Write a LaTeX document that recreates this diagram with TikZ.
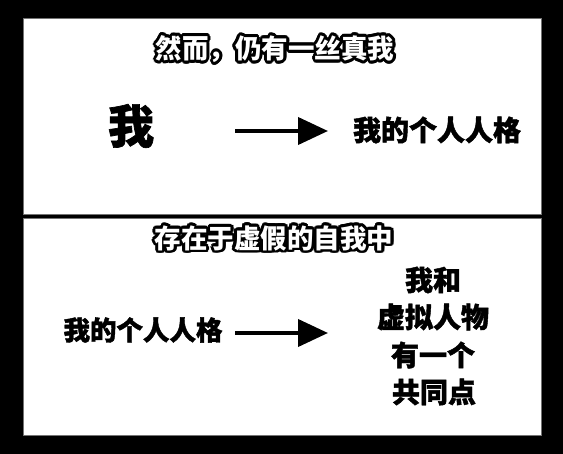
\documentclass[tikz,border=0pt]{standalone}
\usepackage{fontspec}
\newfontfamily\cjk{Noto Sans CJK SC}[BoldFeatures={FakeBold=1.5}]
\newfontfamily\cjkplain{Noto Sans CJK SC}
\usetikzlibrary{arrows.meta}
\tikzset{
  txt/.style={font=\cjk\bfseries\fontsize{28}{28}\selectfont, inner sep=0pt, text=black},
  bigtxt/.style={font=\cjk\bfseries\fontsize{46}{46}\selectfont, inner sep=0pt, text=black},
  ttl/.style={font=\cjkplain\bfseries\fontsize{26.5}{26.5}\selectfont, inner sep=0pt},
  col/.style={font=\cjk\bfseries\fontsize{28}{37}\selectfont, inner sep=0pt, align=center, text=black},
  arr/.style={line width=4pt, -{Triangle[length=30pt,width=27pt]}},
  panel/.style={fill=white, draw=black!55, line width=0.8pt}
}
\begin{document}
\begin{tikzpicture}[x=1pt,y=-1pt]
\useasboundingbox (0,0) rectangle (563,454);
\fill[black] (0,0) rectangle (563,454);
\path[panel] (23,18) rectangle (541,214);
\path[panel] (23,218) rectangle (541,435);
% titles with outline
\foreach \a in {0,22.5,...,337.5}{
  \node[ttl, text=black, shift={(\a:2.8)}] at (275,49) {然而，仍有一丝真我};
  \node[ttl, text=black, shift={(\a:2.8)}] at (274,238) {存在于虚假的自我中};
}
\node[ttl, text=white] (t1) at (275,49) {然而，仍有一丝真我};
\node[ttl, text=white] (t2) at (274,238) {存在于虚假的自我中};
% top row
\node[bigtxt] (me) at (131,126) {我};
\node[txt] (p1) at (437,130) {我的个人人格};
\coordinate (a1s) at (235,131);
\coordinate (a1e) at (328,131);
\draw[arr] (a1s) -- (a1e);
% bottom row
\node[font=\cjk\bfseries\fontsize{26.5}{26.5}\selectfont, inner sep=0pt] (p2) at (143,330) {我的个人人格};
\coordinate (a2s) at (235,333);
\coordinate (a2e) at (328,333);
\draw[arr] (a2s) -- (a2e);
\node[col] (c1) at (433,280) {我和};
\node[col] (c2) at (433,317) {虚拟人物};
\node[col] (c3) at (433,355) {有一个};
\node[col] (c4) at (434,392) {共同点};
\end{tikzpicture}
\end{document}
